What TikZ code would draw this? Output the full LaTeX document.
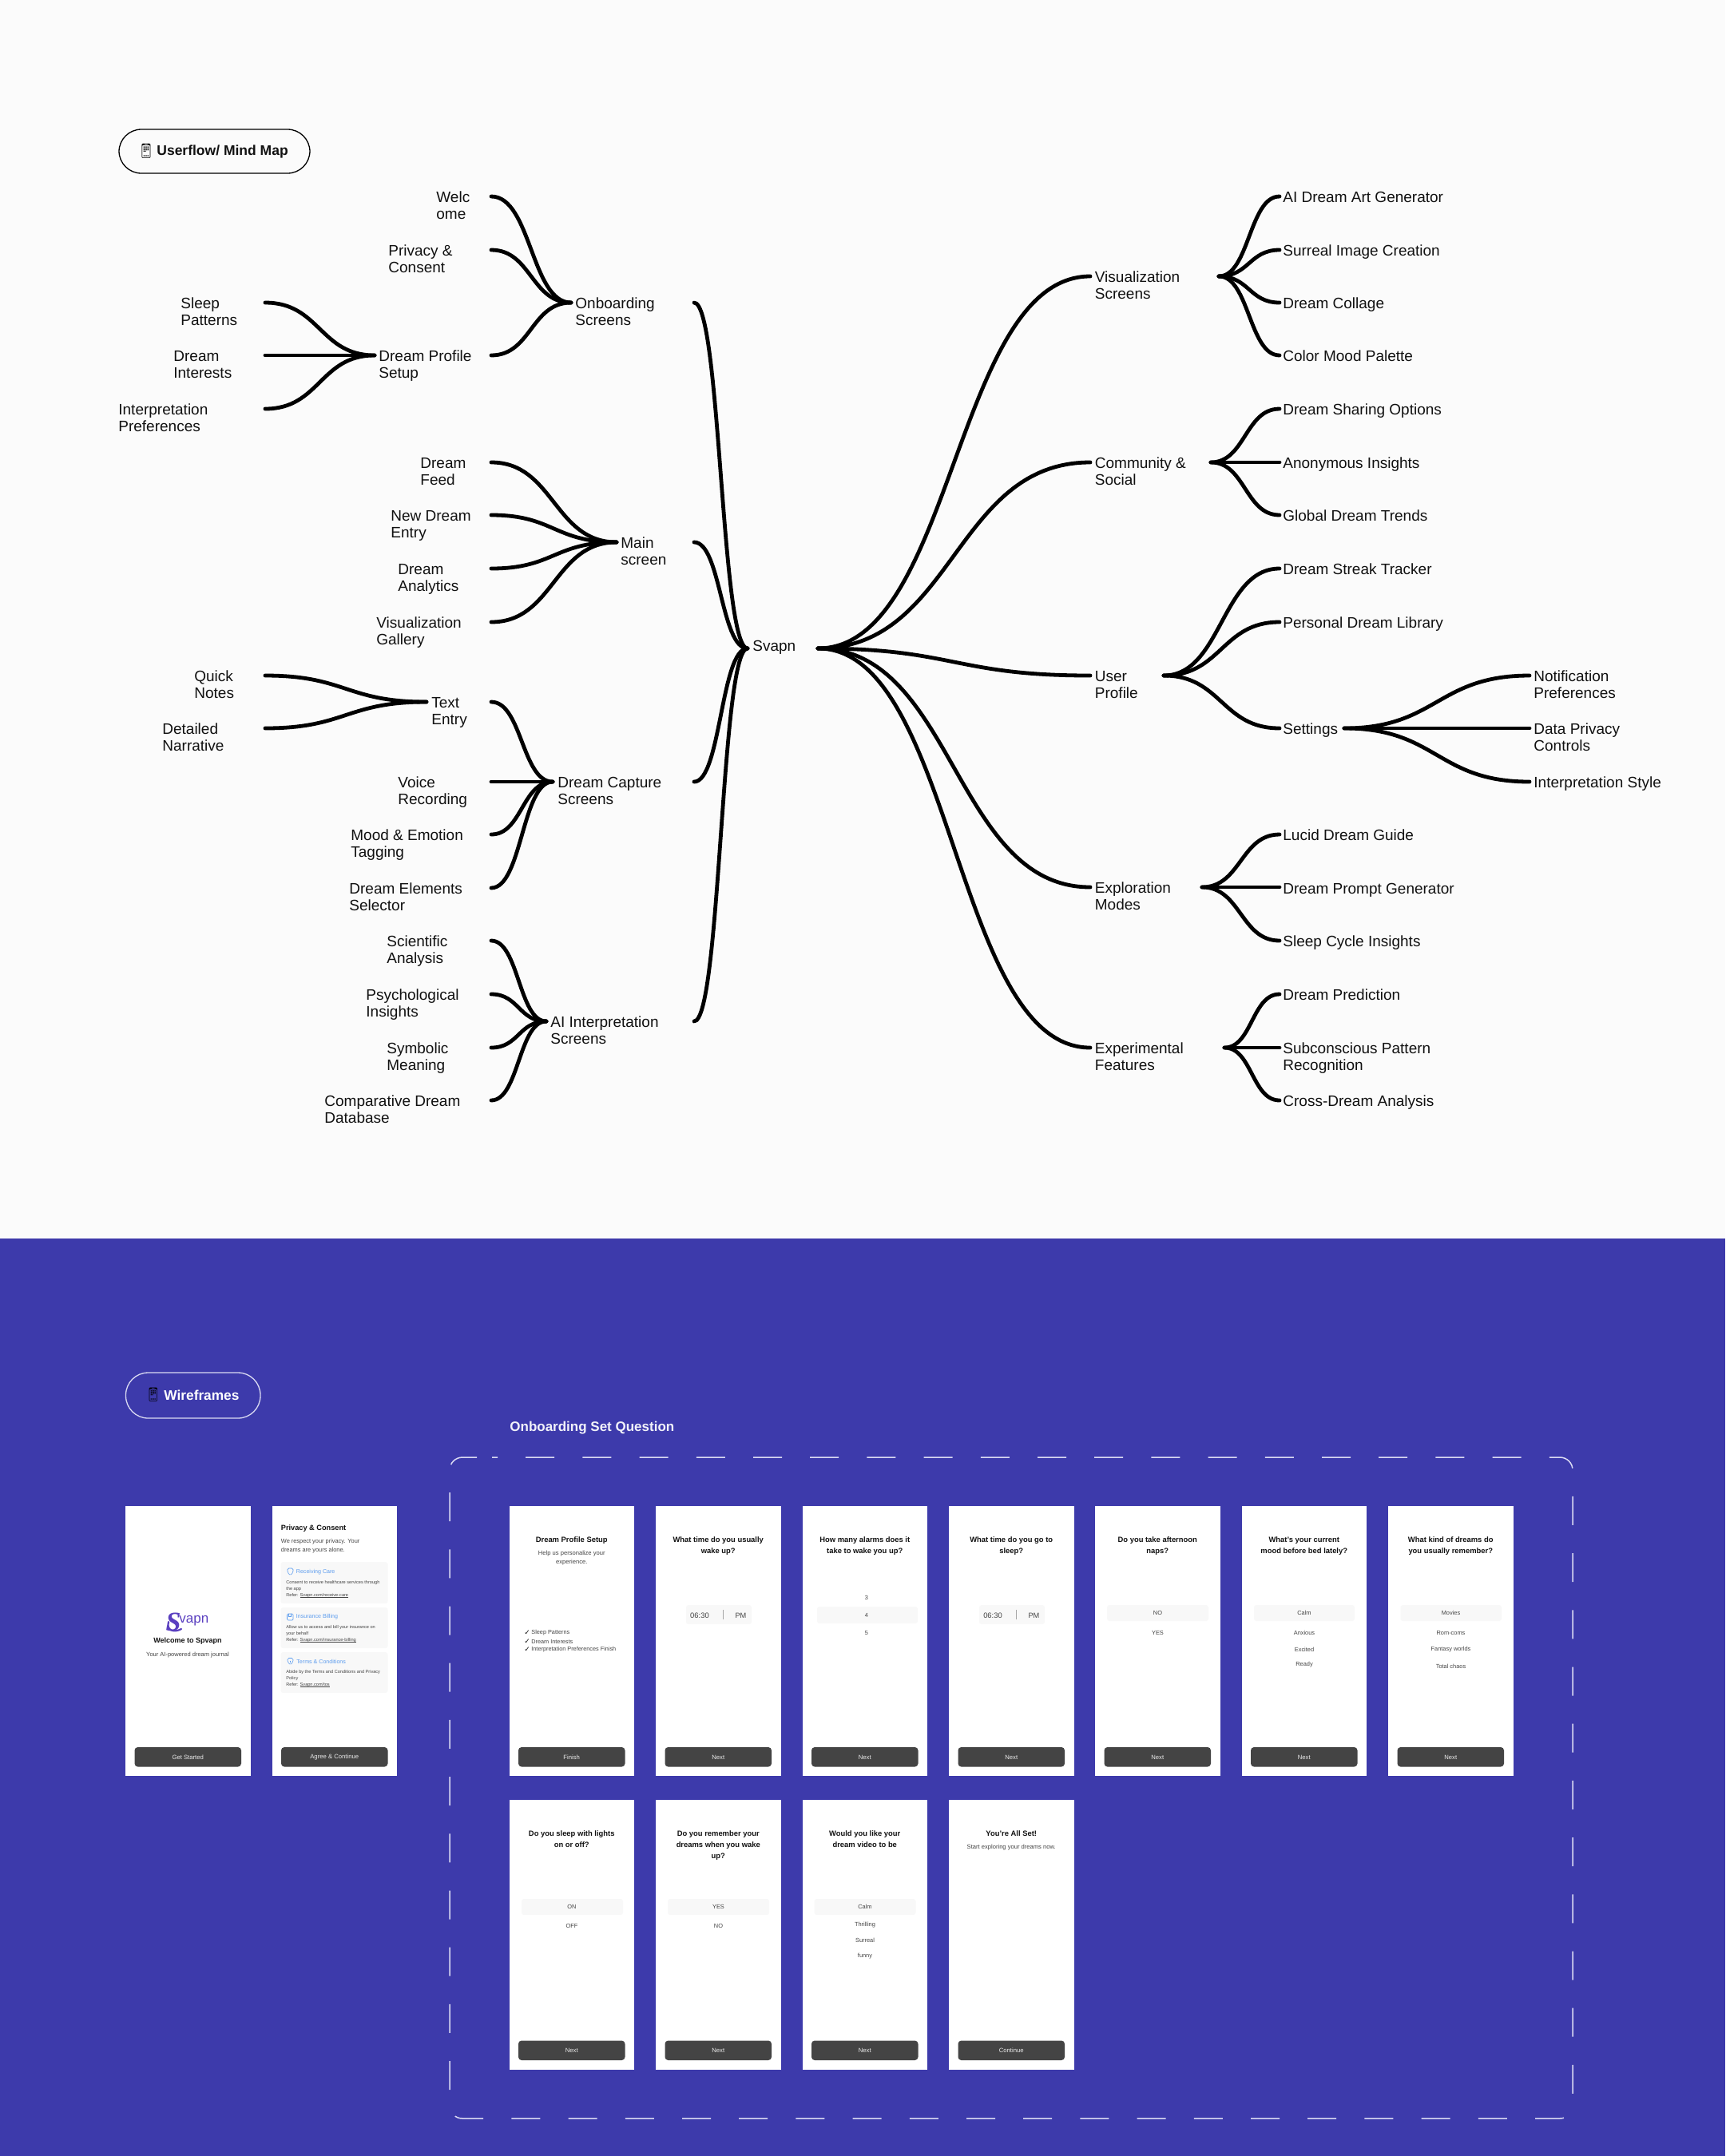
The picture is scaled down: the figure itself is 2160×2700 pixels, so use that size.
\documentclass[tikz,border=0pt]{standalone}
\usepackage{fontspec}
\usetikzlibrary{calc}
\setmainfont{Liberation Sans}
\newfontfamily\emojifont{Noto Emoji}
\newfontfamily\symfont{DejaVu Sans}
\newfontfamily\logofont{Liberation Serif}
\definecolor{mapbg}{HTML}{FBFBFB}
\definecolor{wfbg}{HTML}{3D3AAB}
\definecolor{btn}{HTML}{444444}
\definecolor{soft}{HTML}{F8F8F8}
\definecolor{ink}{HTML}{111111}
\definecolor{greytxt}{HTML}{444444}
\definecolor{linkblue}{HTML}{5C9CEE}
\definecolor{logoc}{HTML}{5A3FC0}
\definecolor{dashc}{HTML}{DADAF2}
\tikzset{
  link/.style={draw=black,line width=2.4pt,line cap=round},
  lbl/.style={anchor=north west,inner sep=0pt,align=left,font=\fontsize{9.5}{10.75}\selectfont,text=ink},
  pill/.style={draw=#1,line width=0.65pt,rounded corners=14pt},
  card/.style={fill=white,draw=none},
  cbtn/.style={fill=btn,rounded corners=2pt,draw=none},
  btntxt/.style={font=\fontsize{3.85}{4.5}\selectfont,text=white!92!black,inner sep=0pt},
  ttl/.style={font=\fontsize{4.7}{7}\bfseries\selectfont,text=ink,inner sep=0pt,align=center,anchor=north},
  opt/.style={font=\fontsize{3.7}{4.5}\selectfont,text=greytxt,inner sep=0pt},
  sub/.style={font=\fontsize{3.8}{5.5}\selectfont,text=greytxt,inner sep=0pt,align=center,anchor=north},
  soft box/.style={fill=soft,rounded corners=1.5pt,draw=none},
  small/.style={font=\fontsize{2.8}{4}\selectfont,text=greytxt,inner sep=0pt,anchor=base west},
  head/.style={font=\fontsize{3.55}{4}\selectfont,text=linkblue,inner sep=0pt,anchor=west},
  ico/.style={draw=linkblue,line width=0.3pt},
}
% label: name, x, first-line y, text
\newcommand{\lab}[4]{\node[lbl] (#1) at (#2,#3-9.3) {\rule{0pt}{8pt}#4};}
\newcommand{\pt}[3]{\coordinate (#1) at (#2,#3);}
% connector: horizontal S curve between two named points
\newcommand{\conn}[2]{\draw[link] (#1) .. controls ($(#1)!.5!(#1-|#2)$) and ($(#2)!.5!(#2-|#1)$) .. (#2);}
\newcommand{\cardat}[3]{%
  \node[card,minimum width=78.25pt,minimum height=169pt,inner sep=0pt,anchor=north west] (#1) at (#2,#3) {};
}
% button in a card: card name, x, y, text
\newcommand{\cbutton}[4]{%
  \fill[cbtn] (#2+11.5,#3+302) rectangle (#2+145,#3+326.5);
  \node[btntxt] (#1) at (#2+78.25,#3+314.5) {#4};
}
\newcommand{\timepill}[3]{%
  \fill[soft box] (#2+38,#3+124) rectangle (#2+120,#3+148);
  \node[inner sep=0pt,font=\fontsize{4.7}{5}\selectfont,text=greytxt] (#1a) at (#2+55,#3+137) {06:30};
  \draw[line width=0.5pt,draw=black!35] (#2+84,#3+130) -- (#2+84,#3+142);
  \node[inner sep=0pt,font=\fontsize{4.6}{5}\selectfont,text=greytxt] (#1b) at (#2+106.5,#3+137) {PM};
}
\newcommand{\ulk}[1]{\leavevmode\setbox0\hbox{#1}\rlap{\rule[-0.45pt]{\wd0}{0.14pt}}\box0}
\begin{document}
\begin{tikzpicture}[x=0.5pt,y=-0.5pt]
\useasboundingbox (0,0) rectangle (2160,2700);
\fill[mapbg] (0,0) rectangle (2160,1551);
\fill[wfbg] (0,1551) rectangle (2160,2700);

% ---------- pill 1
\draw[pill=black] (149,162) rectangle (388,217);
\node[inner sep=0pt,font=\fontsize{9}{10}\emojifont,text=black] (phoneA) at (183,189) {📱};
\node[inner sep=0pt,anchor=west,font=\fontsize{8.75}{10}\bfseries\selectfont,text=ink] (titleA) at (196,189.5) {Userflow/ Mind Map};

% ---------- labels, left
\lab{welc}{546}{246}{Welc\\ome}
\lab{priv}{486}{313}{Privacy \&\\Consent}
\lab{onb}{720}{379}{Onboarding\\Screens}
\lab{sleep}{226}{379}{Sleep\\Patterns}
\lab{dint}{217}{445}{Dream\\Interests}
\lab{ipref}{148}{512}{Interpretation\\Preferences}
\lab{dprof}{474}{445}{Dream Profile\\Setup}
\lab{dfeed}{526}{579}{Dream\\Feed}
\lab{newd}{489}{645}{New Dream\\Entry}
\lab{dana}{498}{712}{Dream\\Analytics}
\lab{visg}{471}{779}{Visualization\\Gallery}
\lab{mains}{777}{679}{Main\\screen}
\lab{quick}{243}{846}{Quick\\Notes}
\lab{detn}{203}{912}{Detailed\\Narrative}
\lab{texte}{540}{879}{Text\\Entry}
\lab{dcap}{698}{979}{Dream Capture\\Screens}
\lab{voice}{498}{979}{Voice\\Recording}
\lab{mood}{439}{1045}{Mood \& Emotion\\Tagging}
\lab{dele}{437}{1112}{Dream Elements\\Selector}
\lab{sci}{484}{1178}{Scientific\\Analysis}
\lab{psy}{458}{1245}{Psychological\\Insights}
\lab{sym}{484}{1312}{Symbolic\\Meaning}
\lab{comp}{406}{1378}{Comparative Dream\\Database}
\lab{aii}{689}{1279}{AI Interpretation\\Screens}
\lab{svapn}{942}{808}{Svapn}
% labels, right
\lab{visu}{1370.5}{346}{Visualization\\Screens}
\lab{comm}{1370.5}{579}{Community \&\\Social}
\lab{user}{1370.5}{846}{User\\Profile}
\lab{expl}{1370.5}{1111}{Exploration\\Modes}
\lab{expf}{1370.5}{1312}{Experimental\\Features}
\lab{art}{1606}{246}{AI Dream Art Generator}
\lab{surr}{1606}{313}{Surreal Image Creation}
\lab{coll}{1606}{379}{Dream Collage}
\lab{colr}{1606}{445}{Color Mood Palette}
\lab{shar}{1606}{512}{Dream Sharing Options}
\lab{anon}{1606}{579}{Anonymous Insights}
\lab{glob}{1606}{645}{Global Dream Trends}
\lab{strk}{1606}{712}{Dream Streak Tracker}
\lab{libr}{1606}{779}{Personal Dream Library}
\lab{sett}{1606}{912}{Settings}
\lab{noti}{1920}{846}{Notification\\Preferences}
\lab{dpri}{1920}{912}{Data Privacy\\Controls}
\lab{isty}{1920}{979}{Interpretation Style}
\lab{luci}{1606}{1045}{Lucid Dream Guide}
\lab{prom}{1606}{1112}{Dream Prompt Generator}
\lab{cycl}{1606}{1178}{Sleep Cycle Insights}
\lab{pred}{1606}{1245}{Dream Prediction}
\lab{subc}{1606}{1312}{Subconscious Pattern\\Recognition}
\lab{cros}{1606}{1378}{Cross-Dream Analysis}

% ---------- ports
\pt{svL}{936}{812}\pt{svR}{1024}{812}
\pt{onbL}{715}{379}\pt{onbR}{869}{379}
\pt{mainL}{772}{679}\pt{mainR}{869}{679}
\pt{capL}{692}{979}\pt{capR}{869}{979}
\pt{aiL}{684}{1279}\pt{aiR}{869}{1279}
\pt{welcP}{615}{246}\pt{privP}{615}{313}\pt{dprofR}{615}{445}
\pt{dprofL}{469}{445}\pt{sleepP}{332}{379}\pt{dintP}{332}{445}\pt{iprefP}{332}{512}
\pt{dfeedP}{615}{579}\pt{newdP}{615}{645}\pt{danaP}{615}{712}\pt{visgP}{615}{779}
\pt{textL}{534}{879}\pt{quickP}{332}{846}\pt{detnP}{332}{912}
\pt{textR}{615}{879}\pt{voiceP}{615}{979}\pt{moodP}{615}{1045}\pt{deleP}{615}{1112}
\pt{sciP}{615}{1178}\pt{psyP}{615}{1245}\pt{symP}{615}{1312}\pt{compP}{615}{1378}
\pt{visuL}{1365}{346}\pt{commL}{1365}{579}\pt{userL}{1365}{846}\pt{explL}{1365}{1111}\pt{expfL}{1365}{1312}
\pt{visuR}{1526}{346}\pt{commR}{1516}{579}\pt{userR}{1457}{846}\pt{explR}{1505}{1111}\pt{expfR}{1533}{1312}
\pt{artP}{1602}{246}\pt{surrP}{1602}{313}\pt{collP}{1602}{379}\pt{colrP}{1602}{445}
\pt{sharP}{1602}{512}\pt{anonP}{1602}{579}\pt{globP}{1602}{645}
\pt{strkP}{1602}{712}\pt{librP}{1602}{779}\pt{settL}{1602}{912}\pt{settR}{1683}{912}
\pt{notiP}{1915}{846}\pt{dpriP}{1915}{912}\pt{istyP}{1915}{979}
\pt{luciP}{1602}{1045}\pt{promP}{1602}{1111}\pt{cyclP}{1602}{1178}
\pt{predP}{1602}{1245}\pt{subcP}{1602}{1312}\pt{crosP}{1602}{1378}

% ---------- connectors
\conn{svL}{onbR}\conn{svL}{mainR}\conn{svL}{capR}\conn{svL}{aiR}
\conn{svR}{visuL}\conn{svR}{commL}\conn{svR}{userL}\conn{svR}{explL}\conn{svR}{expfL}
\conn{onbL}{welcP}\conn{onbL}{privP}\conn{onbL}{dprofR}
\conn{dprofL}{sleepP}\conn{dprofL}{dintP}\conn{dprofL}{iprefP}
\conn{mainL}{dfeedP}\conn{mainL}{newdP}\conn{mainL}{danaP}\conn{mainL}{visgP}
\conn{textL}{quickP}\conn{textL}{detnP}
\conn{capL}{textR}\conn{capL}{voiceP}\conn{capL}{moodP}\conn{capL}{deleP}
\conn{aiL}{sciP}\conn{aiL}{psyP}\conn{aiL}{symP}\conn{aiL}{compP}
\conn{visuR}{artP}\conn{visuR}{surrP}\conn{visuR}{collP}\conn{visuR}{colrP}
\conn{commR}{sharP}\conn{commR}{anonP}\conn{commR}{globP}
\conn{userR}{strkP}\conn{userR}{librP}\conn{userR}{settL}
\conn{settR}{notiP}\conn{settR}{dpriP}\conn{settR}{istyP}
\conn{explR}{luciP}\conn{explR}{promP}\conn{explR}{cyclP}
\conn{expfR}{predP}\conn{expfR}{subcP}\conn{expfR}{crosP}

% ---------- wireframes header
\draw[pill=dashc] (157.5,1719) rectangle (326,1776);
\node[inner sep=0pt,font=\fontsize{8.5}{10}\emojifont,text=black] (phoneB) at (192,1747) {📱};
\node[inner sep=0pt,anchor=west,font=\fontsize{8.65}{10}\bfseries\selectfont,text=white] (titleB) at (205,1747) {Wireframes};
\node[inner sep=0pt,anchor=west,font=\fontsize{8.5}{10}\bfseries\selectfont,text=white!93!wfbg] (setq) at (638,1788) {Onboarding Set Question};
\draw[dashc,line width=0.75pt,rounded corners=8pt,dash pattern=on 18pt off 17.6pt,dash phase=14.5pt]
  (600,1825) -- (1969,1825) -- (1969,2653) -- (563,2653) -- (563,1825) -- cycle;

% ---------- card 1
\cardat{c1}{157}{1886}
\cbutton{b1}{157}{1886}{Get Started}
\node[inner sep=0pt,font=\fontsize{17}{18}\logofont\bfseries\itshape,text=logoc] (logoS) at (217,2031) {S};
\node[inner sep=0pt,anchor=west,font=\fontsize{8.5}{9}\selectfont,text=logoc] (logo) at (224,2030) {vapn};
\draw[logoc,line width=1.1pt,line cap=round] (211,2031) .. controls (208,2042) and (218,2045) .. (227,2040);
\node[ttl,anchor=center,font=\fontsize{4.5}{6}\bfseries\selectfont] (c1t) at (235,2055.5) {Welcome to Spvapn};
\node[opt,font=\fontsize{3.75}{5}\selectfont] (c1s) at (235,2072.5) {Your AI-powered dream journal};

% ---------- card 2
\cardat{c2}{340.5}{1886}
\cbutton{b2}{340.5}{1886}{Agree \& Continue}
\node[inner sep=0pt,anchor=west,font=\fontsize{4.6}{6}\bfseries\selectfont,text=ink] (c2t) at (351.5,1914) {Privacy \& Consent};
\node[inner sep=0pt,anchor=west,font=\fontsize{3.7}{5.55}\selectfont,text=greytxt,align=left] (c2s) at (351.5,1936.5) {We respect your privacy. Your\\dreams are yours alone.};
\fill[soft box] (351.5,1956) rectangle (485.5,2008);
\fill[soft box] (351.5,2013) rectangle (485.5,2064);
\fill[soft box] (351.5,2069) rectangle (485.5,2120);
\node[head] (h1) at (370.5,1968.5) {Receiving Care};
\node[head] (h2) at (370.5,2024.5) {Insurance Billing};
\node[head] (h3) at (371,2080.5) {Terms \& Conditions};
% icons
\draw[ico,rounded corners=0.8pt] (360,1964) -- (367,1964) -- (367,1969) -- (363.5,1973) -- (360,1969) -- cycle;
\draw[ico,rounded corners=0.6pt] (359.5,2021) rectangle (367,2029);
\draw[ico] (361.5,2021) -- (361.5,2024) -- (364.5,2024) -- (364.5,2021);
\draw[ico,rounded corners=0.8pt] (360,2077) -- (363.5,2076) -- (367,2077) -- (367,2081) -- (363.5,2085) -- (360,2081) -- cycle;
\draw[ico] (363.5,2079.5) -- (363.5,2082);
\node[small] (p1a) at (358,1983) {Consent to receive healthcare services through};
\node[small] (p1b) at (358,1991) {the app};
\node[small] (p1c) at (358,1999) {Refer: \ulk{Svapn.com/receive-care}};
\node[small] (p2a) at (358,2039) {Allow us to access and bill your insurance on};
\node[small] (p2b) at (358,2047) {your behalf};
\node[small] (p2c) at (358,2055) {Refer: \ulk{Svapn.com/insurance-billing}};
\node[small] (p3a) at (358,2095) {Abide by the Terms and Conditions and Privacy};
\node[small] (p3b) at (358,2103) {Policy};
\node[small] (p3c) at (358,2111) {Refer: \ulk{Svapn.com/tos}};

% ---------- card 3
\cardat{c3}{637.5}{1886}
\cbutton{b3}{637.5}{1886}{Finish}
\node[ttl] (c3t) at (715.75,1924.5) {Dream Profile Setup};
\node[sub] (c3s) at (715.75,1941.5) {Help us personalize your\\experience.};
\foreach \yy/\tt/\nn in {2044.5/Sleep Patterns/a,2055.5/Dream Interests/b,2066/Interpretation Preferences Finish/c}{
  \node[inner sep=0pt,font=\fontsize{4.4}{5}\symfont,text=ink] (chk\nn) at (660,\yy) {✓};
  \node[inner sep=0pt,anchor=west,font=\fontsize{3.65}{4}\selectfont,text=greytxt] (chl\nn) at (665,\yy) {\tt};
}

% ---------- card 4
\cardat{c4}{821}{1886}
\cbutton{b4}{821}{1886}{Next}
\node[ttl] (c4t) at (899.25,1924.5) {What time do you usually\\wake up?};
\timepill{tp4}{821}{1886}

% ---------- card 5
\cardat{c5}{1004.5}{1886}
\cbutton{b5}{1004.5}{1886}{Next}
\node[ttl] (c5t) at (1082.75,1924.5) {How many alarms does it\\take to wake you up?};
\fill[soft box] (1023,2012) rectangle (1149,2033);
\node[opt] (o5a) at (1085,2001) {3};
\node[opt] (o5b) at (1085,2023) {4};
\node[opt] (o5c) at (1085,2045) {5};

% ---------- card 6
\cardat{c6}{1188}{1886}
\cbutton{b6}{1188}{1886}{Next}
\node[ttl] (c6t) at (1266.25,1924.5) {What time do you go to\\sleep?};
\timepill{tp6}{1188}{1886}

% ---------- card 7
\cardat{c7}{1371}{1886}
\cbutton{b7}{1371}{1886}{Next}
\node[ttl] (c7t) at (1449.25,1924.5) {Do you take afternoon\\naps?};
\fill[soft box] (1386,2010) rectangle (1513,2030);
\node[opt] (o7a) at (1449.5,2020) {NO};
\node[opt] (o7b) at (1449.5,2045) {YES};

% ---------- card 8
\cardat{c8}{1554.5}{1886}
\cbutton{b8}{1554.5}{1886}{Next}
\node[ttl] (c8t) at (1632.75,1924.5) {What's your current\\mood before bed lately?};
\fill[soft box] (1570,2010) rectangle (1696,2030);
\node[opt] (o8a) at (1633,2020) {Calm};
\node[opt] (o8b) at (1633,2045) {Anxious};
\node[opt] (o8c) at (1633,2066) {Excited};
\node[opt] (o8d) at (1633,2085) {Ready};

% ---------- card 9
\cardat{c9}{1738}{1886}
\cbutton{b9}{1738}{1886}{Next}
\node[ttl] (c9t) at (1816.25,1924.5) {What kind of dreams do\\you usually remember?};
\fill[soft box] (1753.5,2010) rectangle (1880,2030);
\node[opt] (o9a) at (1816.5,2020) {Movies};
\node[opt] (o9b) at (1816.5,2045) {Rom-coms};
\node[opt] (o9c) at (1816.5,2066) {Fantasy worlds};
\node[opt] (o9d) at (1816.5,2087) {Total chaos};

% ---------- row 2
\cardat{c10}{637.5}{2253.5}
\cbutton{b10}{637.5}{2253.5}{Next}
\node[ttl] (c10t) at (715.75,2292) {Do you sleep with lights\\on or off?};
\fill[soft box] (653,2378) rectangle (780,2398);
\node[opt] (o10a) at (716,2388) {ON};
\node[opt] (o10b) at (716,2412) {OFF};

\cardat{c11}{821}{2253.5}
\cbutton{b11}{821}{2253.5}{Next}
\node[ttl] (c11t) at (899.25,2292) {Do you remember your\\dreams when you wake\\up?};
\fill[soft box] (836,2378) rectangle (963,2398);
\node[opt] (o11a) at (899.5,2388) {YES};
\node[opt] (o11b) at (899.5,2412) {NO};

\cardat{c12}{1004.5}{2253.5}
\cbutton{b12}{1004.5}{2253.5}{Next}
\node[ttl] (c12t) at (1082.75,2292) {Would you like your\\dream video to be};
\fill[soft box] (1019.5,2378) rectangle (1146.5,2398);
\node[opt] (o12a) at (1083,2388) {Calm};
\node[opt] (o12b) at (1083,2411) {Thrilling};
\node[opt] (o12c) at (1083,2430) {Surreal};
\node[opt] (o12d) at (1083,2450) {funny};

\cardat{c13}{1188}{2253.5}
\cbutton{b13}{1188}{2253.5}{Continue}
\node[ttl] (c13t) at (1266.25,2292) {You're All Set!};
\node[sub] (c13s) at (1266.25,2309.5) {Start exploring your dreams now.};
\end{tikzpicture}
\end{document}
